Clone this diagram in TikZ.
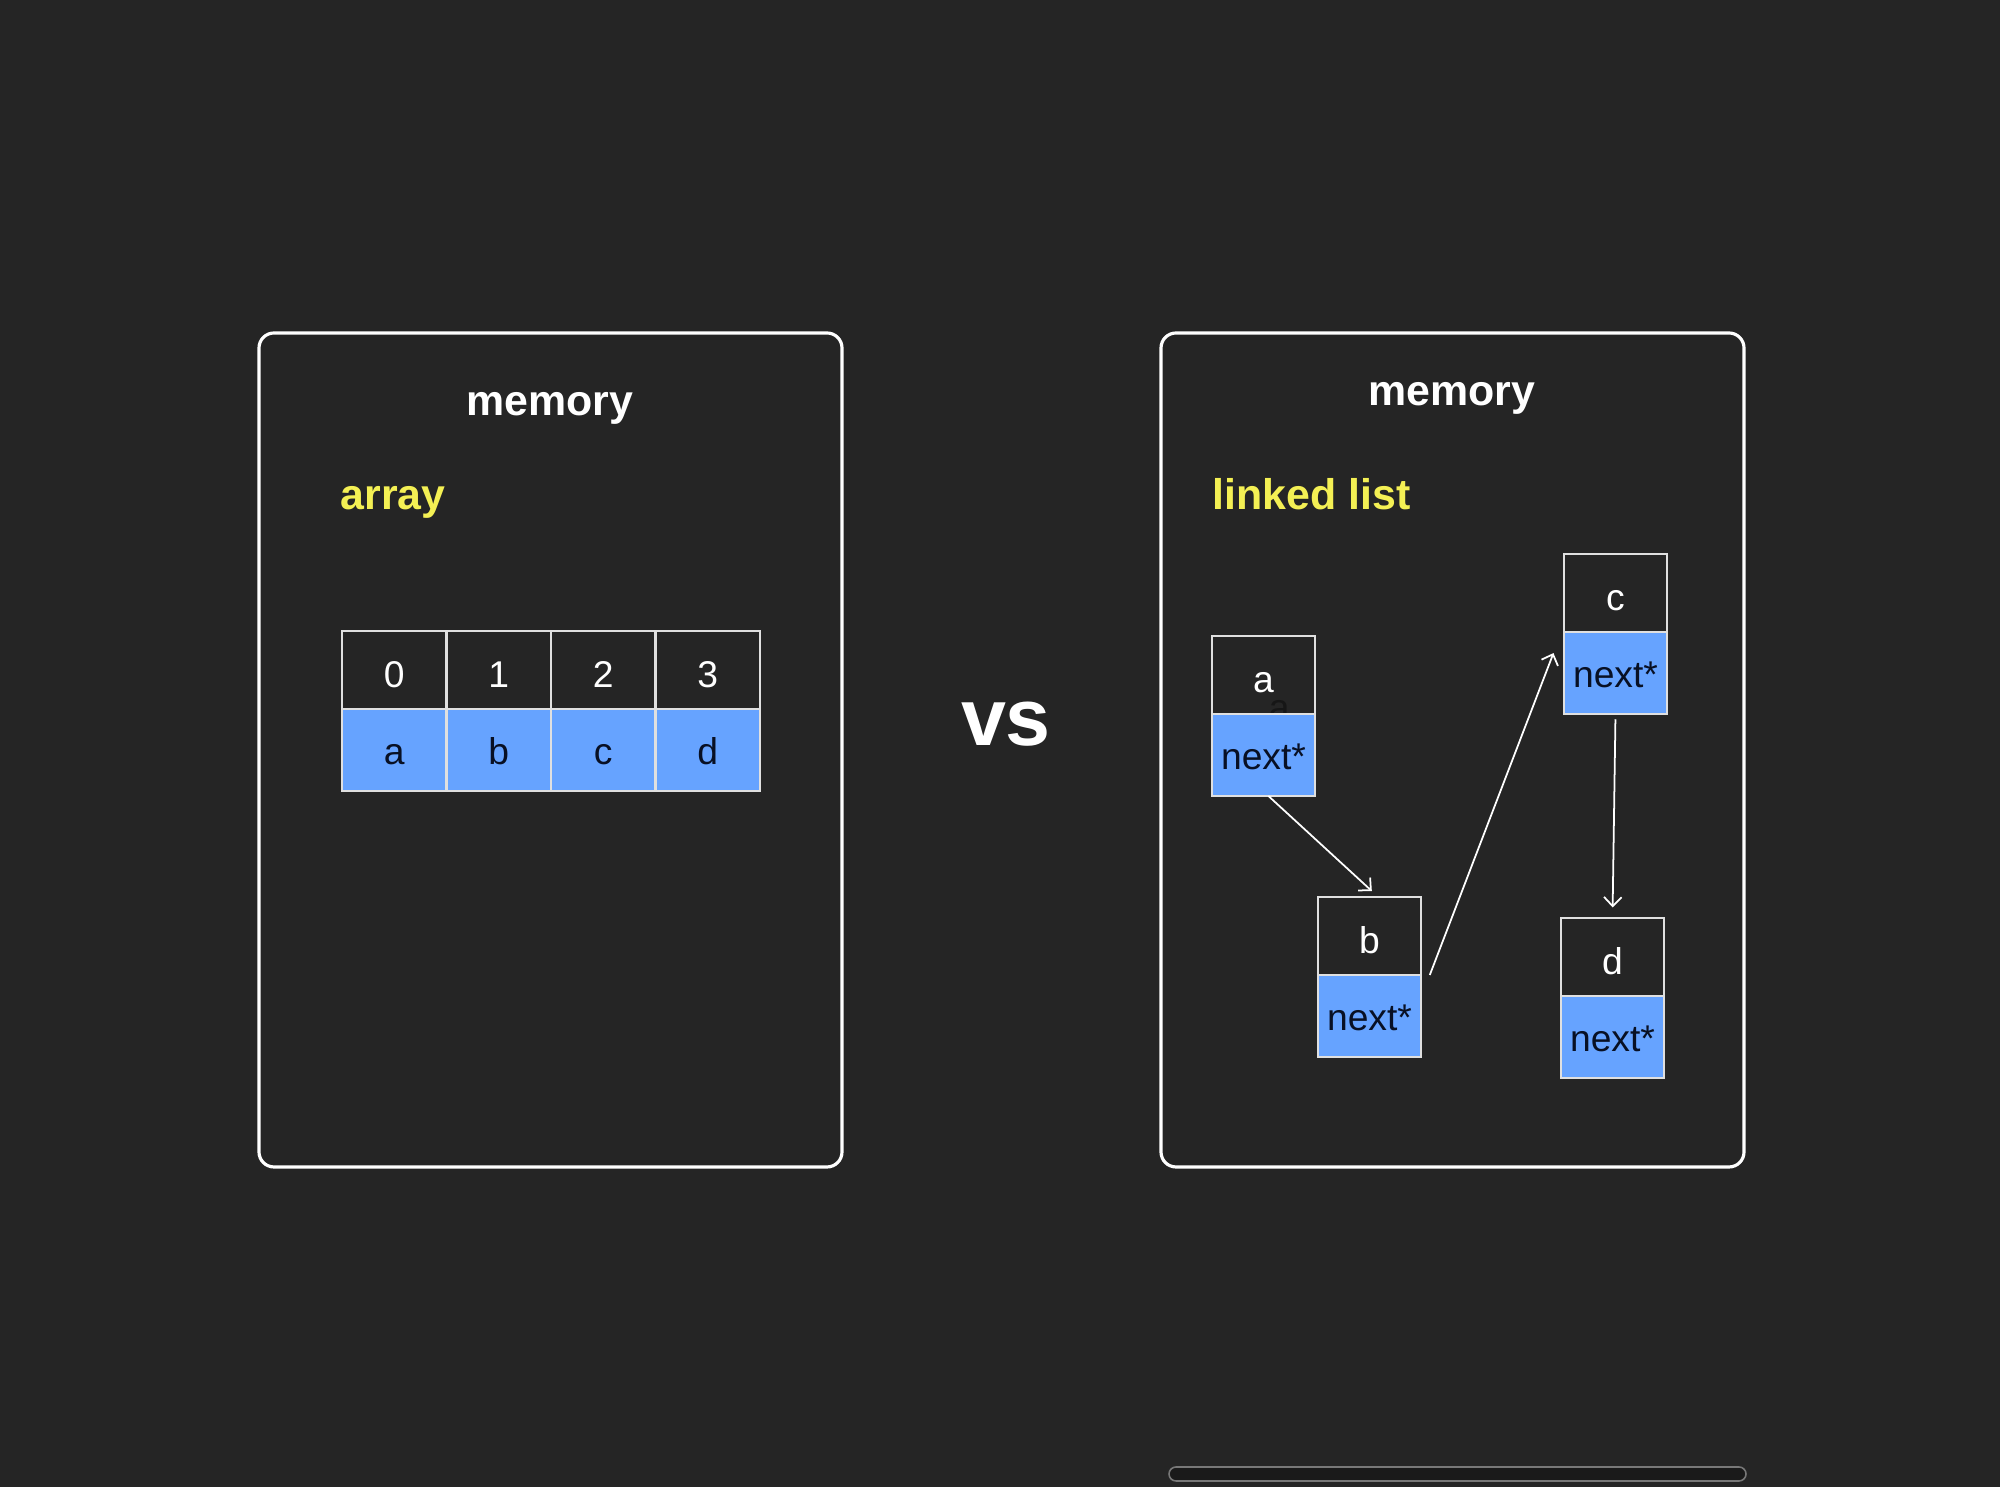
\documentclass[tikz,border=0pt]{standalone}
\usepackage{fontspec}
\setmainfont{Liberation Sans}
\definecolor{bgdark}{RGB}{37,37,37}
\definecolor{cellblue}{RGB}{102,163,255}
\definecolor{hiyellow}{RGB}{244,240,84}
\definecolor{inkdark}{RGB}{8,16,36}
\definecolor{ghostgray}{RGB}{22,22,22}
\definecolor{barfill}{RGB}{26,26,26}
\definecolor{bargray}{RGB}{120,120,120}
\usetikzlibrary{arrows.meta,positioning}

\begin{document}
\begin{tikzpicture}[
  panel/.style={rectangle, rounded corners=0.15cm, draw=white, line width=0.9pt,
                minimum width=5.83cm, minimum height=8.34cm, inner sep=0pt},
  title/.style={font=\fontsize{12.2}{14}\selectfont\bfseries, text=white},
  kind/.style={font=\fontsize{12.2}{14}\selectfont\bfseries, text=hiyellow,
               anchor=base west, inner sep=0pt},
  keycell/.style={rectangle, draw=white!88!black, line width=0.6pt, fill=bgdark,
                  minimum width=1.045cm, minimum height=0.78cm, inner sep=0pt, outer sep=0pt,
                  text height=10pt, text depth=0pt,
                  font=\fontsize{10.6}{12}\selectfont, text=white},
  valcell/.style={keycell, fill=cellblue, text=inkdark, minimum height=0.82cm,
                  text height=10pt, text depth=2pt},
  listkey/.style={keycell, minimum width=1.03cm},
  listval/.style={valcell, minimum width=1.03cm},
  link/.style={-{Straight Barb[length=2.6pt,width=5pt]}, line width=0.5pt, draw=white},
  scrollbar/.style={rectangle, rounded corners=0.07cm, fill=barfill, draw=bargray,
                    line width=0.45pt, minimum width=5.77cm, minimum height=0.14cm, inner sep=0pt}
]
% Background
\fill[bgdark] (0,0) rectangle (20,14.87);

% Memory panels
\node[panel] (arrmem)  at (5.505,7.37) {};
\node[panel] (listmem) at (14.525,7.37) {};

\node[title] (arrtitle)  at (5.50,10.786)  {memory};
\node[title] (listtitle) at (14.52,10.886) {memory};
\node[kind]  (arrkind)   at (3.40,9.77)    {array};
\node[kind]  (listkind)  at (12.12,9.77)   {linked list};

\node[font=\fontsize{23}{26}\selectfont\bfseries, text=white] (vs) at (10.06,7.63) {vs};

% Array cells
\node[keycell] (k0) at (3.9425,8.17) {0};
\node[keycell, right=0pt of k0] (k1) {1};
\node[keycell, right=0pt of k1] (k2) {2};
\node[keycell, right=0pt of k2] (k3) {3};
\node[valcell, below=0pt of k0] (v0) {a};
\node[valcell, below=0pt of k1] (v1) {b};
\node[valcell, below=0pt of k2] (v2) {c};
\node[valcell, below=0pt of k3] (v3) {d};

% List nodes
\node[listkey] (akey) at (12.635,8.12) {a};
\node[font=\fontsize{10.6}{12}\selectfont, text=ghostgray] (aghost) at ([xshift=4.5pt,yshift=0.9pt]akey.south) {a};
\node[listval, below=0pt of akey] (aval) {next*};

\node[listkey] (bkey) at (13.695,5.51) {b};
\node[listval, below=0pt of bkey] (bval) {next*};

\node[listkey] (ckey) at (16.155,8.94) {c};
\node[listval, below=0pt of ckey] (cval) {next*};

\node[listkey] (dkey) at (16.125,5.30) {d};
\node[listval, below=0pt of dkey] (dval) {next*};

% Pointers
\draw[link, shorten >=2.5pt] ([xshift=1.4pt]aval.south) -- ([xshift=2.5pt]bkey.north);
\draw[link] ([xshift=2.5pt]bval.north east) -- ([xshift=-3pt,yshift=-6pt]cval.north west);
\draw[link, shorten <=1.5pt, shorten >=3pt] (cval.south) -- (dkey.north);

% Scroll bar
\node[scrollbar] (bar) at (14.575,0.13) {};
\end{tikzpicture}
\end{document}
